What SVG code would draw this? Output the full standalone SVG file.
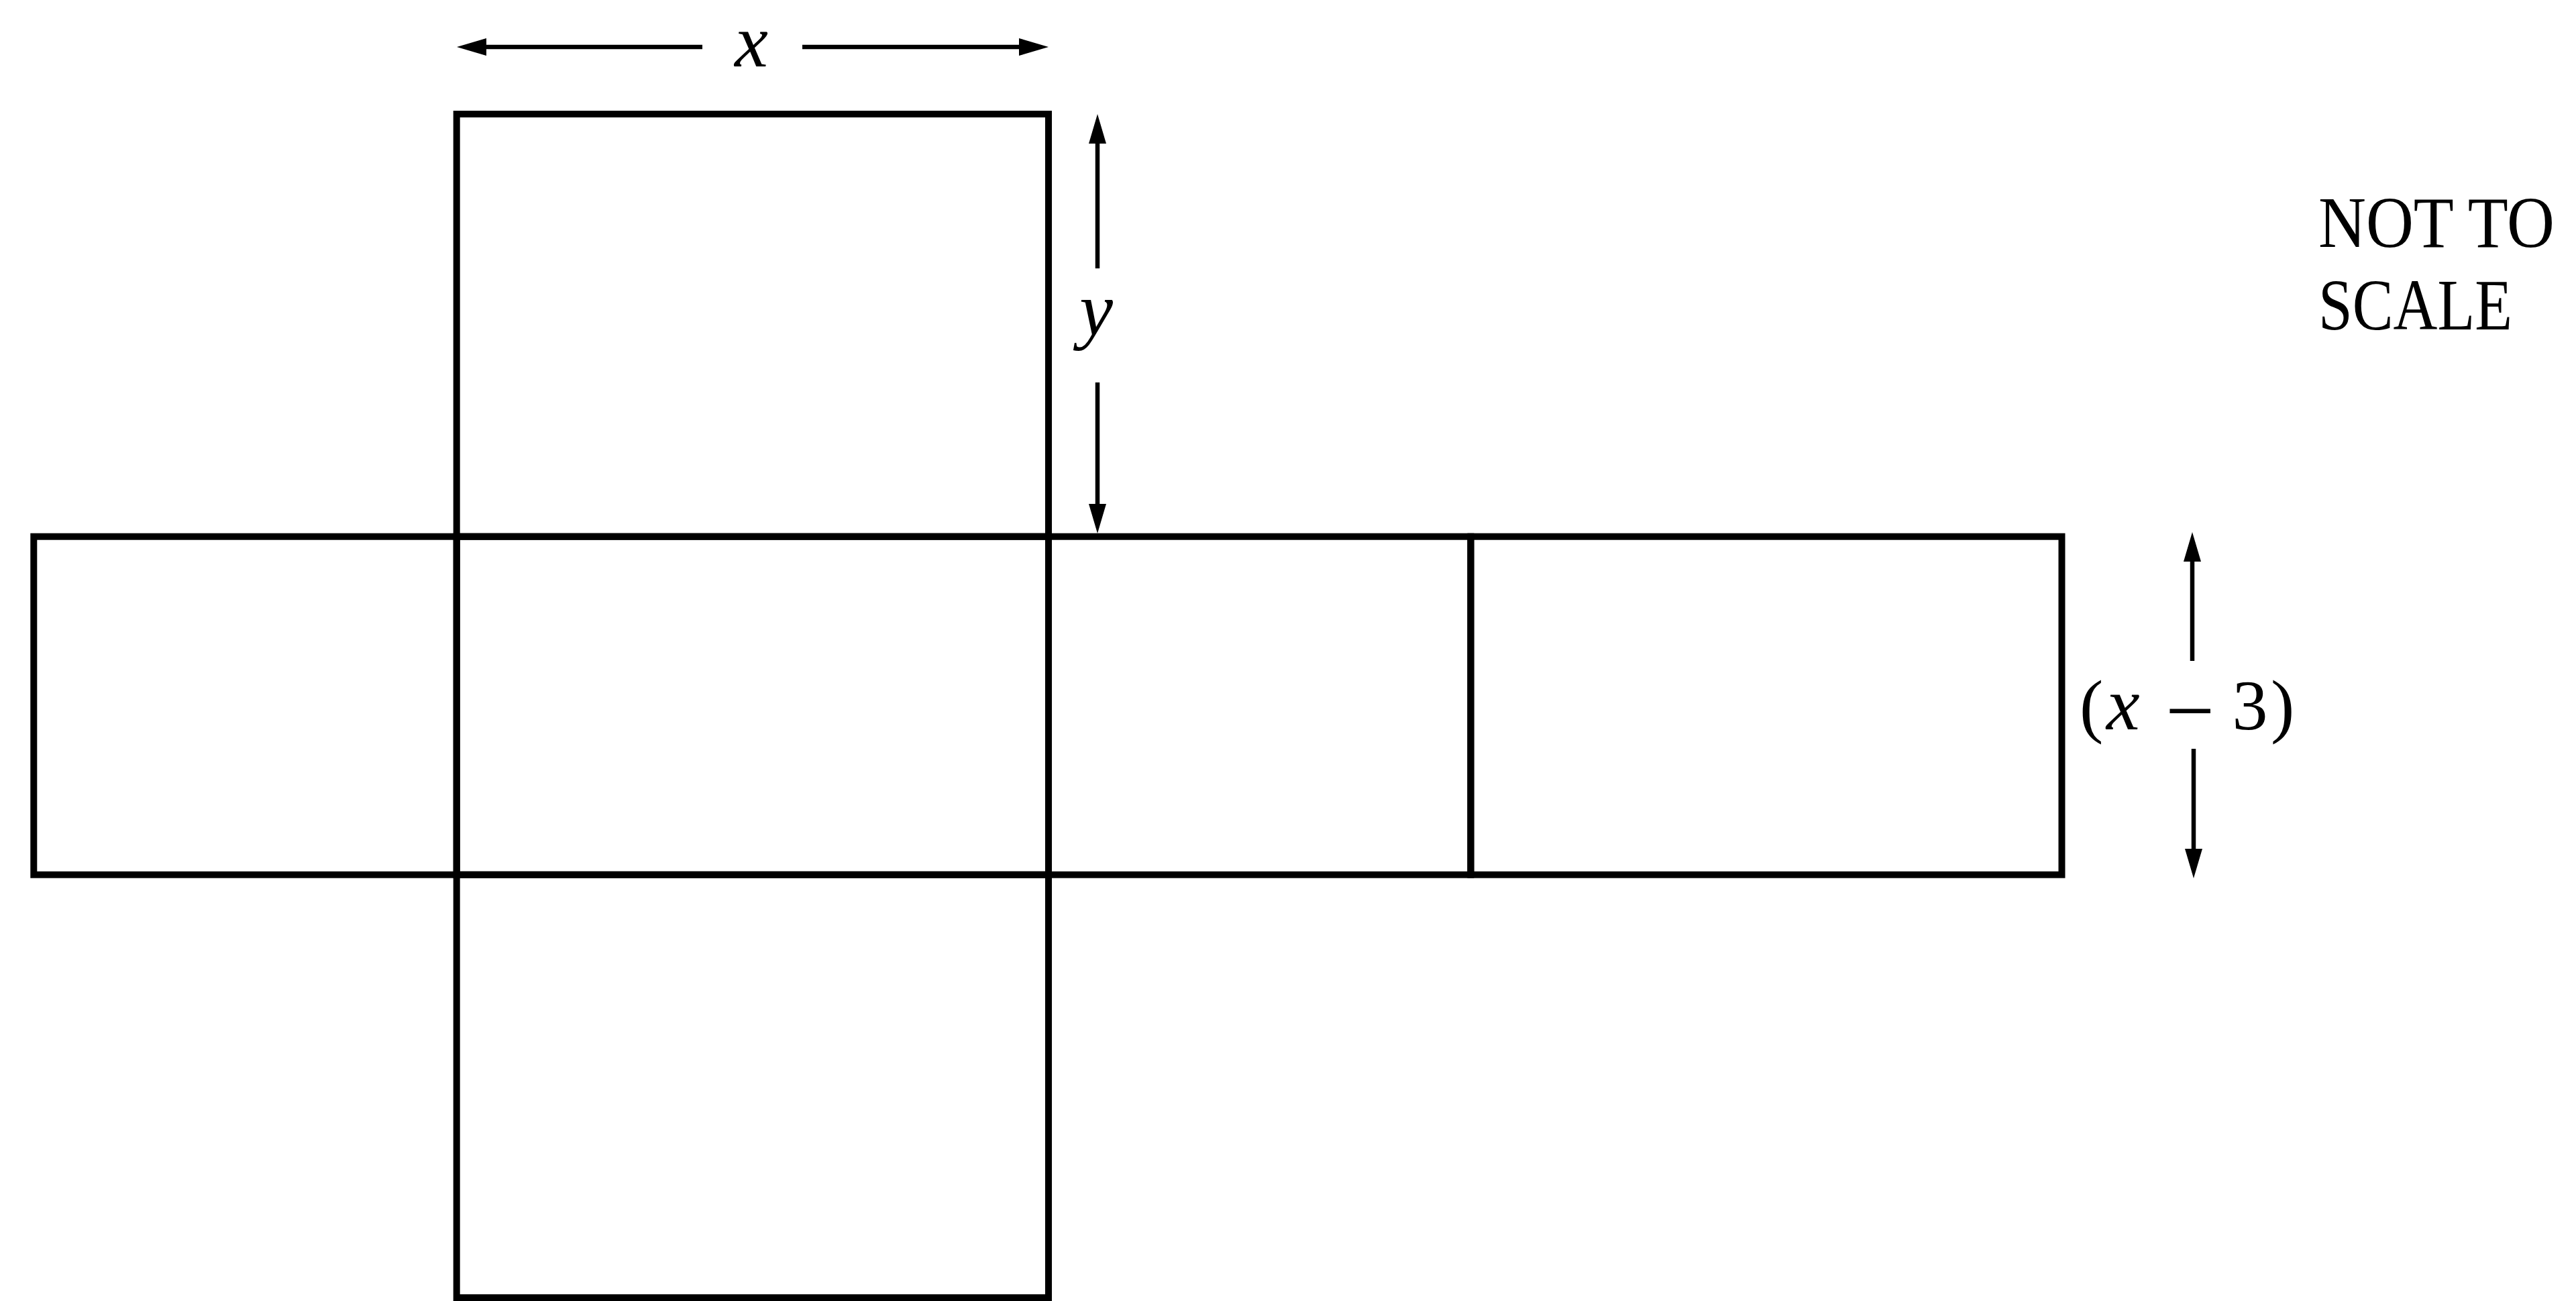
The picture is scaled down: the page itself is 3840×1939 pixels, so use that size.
<svg xmlns="http://www.w3.org/2000/svg" width="3840" height="1939" viewBox="0 0 3840 1939">
  <style>
    .face { fill: none; stroke: #000; stroke-width: 10; }
    .dim { stroke: #000; stroke-width: 6.5; fill: none; marker-end: url(#head); }
    .math { font-family: "Liberation Serif", "Times New Roman", serif; font-size: 106px; fill: #000; }
    .var { font-family: "Liberation Serif", "Times New Roman", serif; font-style: italic; font-size: 112px; fill: #000; }
    .op { font-size: 130px; }
    .note { font-family: "Liberation Serif", "Times New Roman", serif; font-size: 109px; fill: #000; }
  </style>
  <defs>
    <marker id="head" viewBox="0 0 44 26" refX="0" refY="13" markerWidth="44" markerHeight="26" markerUnits="userSpaceOnUse" orient="auto">
      <path d="M0,0 L44,13 L0,26 Z" fill="#000"/>
    </marker>
  </defs>
  <rect width="3840" height="1939" fill="#fff"/>

  <g id="face-top"><rect class="face" x="680.7" y="170" width="882.3" height="629.7"/></g>
  <g id="face-left"><rect class="face" x="50.3" y="799.7" width="630.4" height="504"/></g>
  <g id="face-front"><rect class="face" x="680.7" y="799.7" width="882.3" height="504"/></g>
  <g id="face-right1"><rect class="face" x="1563" y="799.7" width="629.4" height="504"/></g>
  <g id="face-right2"><rect class="face" x="2192.4" y="799.7" width="881.1" height="504"/></g>
  <g id="face-bottom"><rect class="face" x="680.7" y="1303.7" width="882.3" height="630.3"/></g>

  <g id="connectors">
    <line class="dim" x1="1047" y1="70" x2="725" y2="70"/>
    <line class="dim" x1="1196" y1="70" x2="1519" y2="70"/>
    <line class="dim" x1="1636" y1="400" x2="1636" y2="214"/>
    <line class="dim" x1="1636" y1="570" x2="1636" y2="751"/>
    <line class="dim" x1="3268" y1="985" x2="3268" y2="837"/>
    <line class="dim" x1="3270" y1="1116" x2="3270" y2="1265"/>
  </g>

  <g id="labels">
    <text class="var" x="1120" y="99" text-anchor="middle">x</text>
    <text class="var" x="1634" y="499" text-anchor="middle">y</text>
    <text class="math" y="1087"><tspan x="3100">(</tspan><tspan class="var" x="3140">x </tspan><tspan class="op" x="3228" y="1103">−</tspan><tspan x="3301" y="1087"> 3</tspan><tspan x="3385">)</tspan></text>
    <text class="note" x="3456" y="368" textLength="352" lengthAdjust="spacingAndGlyphs">NOT TO</text>
    <text class="note" x="3456" y="491" textLength="289" lengthAdjust="spacingAndGlyphs">SCALE</text>
  </g>
</svg>
